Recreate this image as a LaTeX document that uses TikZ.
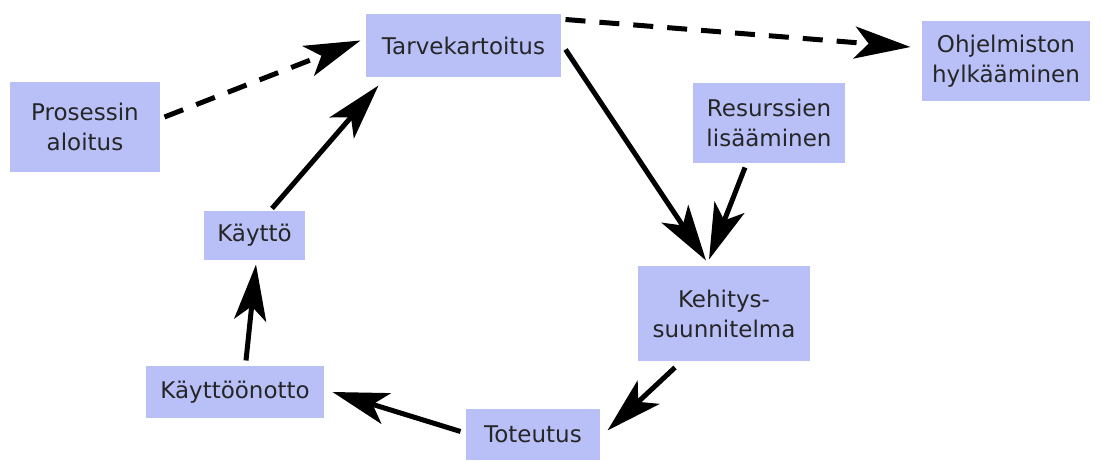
\documentclass[tikz,border=0pt]{standalone}
\usepackage{fontspec}
\setmainfont{DejaVu Sans}
\usetikzlibrary{arrows.meta}
\definecolor{boxblue}{RGB}{185,192,248}

\begin{document}
\begin{tikzpicture}[x=1pt, y=-1pt, line width=5pt,
    main/.style = {fill=boxblue, inner sep=0pt, align=center, text=black!85, font=\fontsize{23}{30}\selectfont},
    flow/.style = {-{Stealth[length=56pt, width=32pt, inset=14pt]}},
    optional/.style = {flow, dash pattern=on 20pt off 14pt}]
        \useasboundingbox (0,0) rectangle (1101,462);
        \node[main, minimum width=150pt, minimum height=90pt] (aloitus) at (85,127) {Prosessin\\aloitus};
        \node[main, minimum width=195pt, minimum height=63pt] (tarve) at (463.5,45.5) {Tarvekartoitus};
        \node[main, minimum width=168pt, minimum height=80pt] (hylk) at (1006,61) {Ohjelmiston\\hylkääminen};
        \node[main, minimum width=152pt, minimum height=80pt] (resurssit) at (769,123) {Resurssien\\lisääminen};
        \node[main, minimum width=101pt, minimum height=49pt] (kaytto) at (254.5,235.5) {Käyttö};
        \node[main, minimum width=172pt, minimum height=95pt] (kehitys) at (724,313.5) {Kehitys-\\suunnitelma};
        \node[main, minimum width=178pt, minimum height=52pt] (kayttoon) at (235,392) {Käyttöönotto};
        \node[main, minimum width=134pt, minimum height=51pt] (toteutus) at (533,434.5) {Toteutus};
        \draw[optional] ([xshift=2pt, yshift=10pt]aloitus.east) -- ([xshift=-3pt, yshift=5pt]tarve.west);
        \draw[optional] ([xshift=2pt, yshift=-8pt]tarve.north east) -- ([xshift=-9pt, yshift=14pt]hylk.west);
        \draw[flow] ([xshift=17.5pt]kaytto.north) -- ([xshift=15pt, yshift=-6pt]tarve.south west);
        \draw[flow] ([xshift=2pt, yshift=-4pt]tarve.east) -- ([xshift=-18pt, yshift=3pt]kehitys.north);
        \draw[flow] ([xshift=-24pt, yshift=-2pt]resurssit.south) -- ([xshift=-15pt, yshift=4pt]kehitys.north);
        \draw[flow] ([xshift=-49pt, yshift=-4pt]kehitys.south) -- ([xshift=5pt, yshift=4pt]toteutus.east);
        \draw[flow] ([xshift=-3pt, yshift=3pt]toteutus.west) -- ([xshift=6pt]kayttoon.east);
        \draw[flow] ([xshift=11pt, yshift=3pt]kayttoon.north) -- ([xshift=1.5pt, yshift=-2pt]kaytto.south);
    \end{tikzpicture}
\end{document}
